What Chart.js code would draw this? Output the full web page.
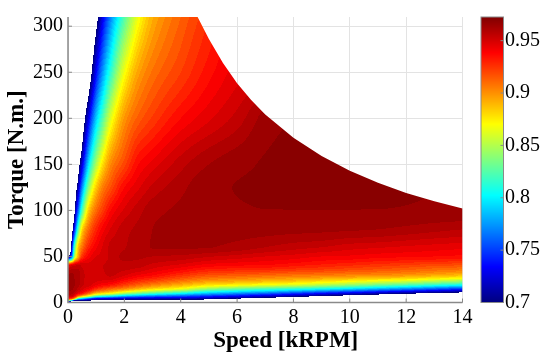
<!DOCTYPE html>
<html><head><meta charset="utf-8">
<script src="https://cdn.jsdelivr.net/npm/chart.js@4.4.1/dist/chart.umd.min.js"></script>
<style>html,body{margin:0;padding:0;background:#fff;}</style>
</head><body>
<canvas id="c" width="550" height="358"></canvas>
<script>
// Speed grid (kRPM), columns
const SPEED = [0, 0.125, 0.25, 0.375, 0.5, 0.75, 1, 1.25, 1.5, 2, 2.5, 3, 4, 5, 6, 7, 8, 9, 10, 11, 12, 13, 14];
// Torque grid (N.m.), rows
const TORQUE = [0, 2, 4, 7, 10, 15, 20, 30, 40, 50, 60, 80, 100, 125, 150, 200, 250, 310];
const EFF_T0   = [0.60,0.55,0.50,0.50,0.50,0.50,0.50,0.50,0.50,0.50,0.50,0.50,0.50,0.50,0.50,0.50,0.50,0.50,0.50,0.50,0.50,0.50,0.50];
const EFF_T2   = [0.85,0.80,0.69,0.695,0.70,0.695,0.69,0.688,0.686,0.686,0.686,0.685,0.685,0.68,0.671,0.66,0.65,0.645,0.638,0.63,0.622,0.615,0.61];
const EFF_T4   = [0.93,0.92,0.88,0.80,0.785,0.751,0.730,0.7265,0.7235,0.7185,0.7166,0.7148,0.7136,0.7068,0.697,0.686,0.675,0.663,0.652,0.643,0.633,0.624,0.615];
const EFF_T7   = [0.955,0.955,0.94,0.91,0.893,0.863,0.829,0.817,0.808,0.788,0.778,0.770,0.760,0.748,0.738,0.725,0.713,0.701,0.690,0.680,0.670,0.661,0.652];
const EFF_T10  = [0.963,0.962,0.955,0.945,0.937,0.914,0.890,0.881,0.873,0.851,0.836,0.825,0.808,0.788,0.776,0.765,0.752,0.740,0.728,0.717,0.706,0.697,0.688];
const EFF_T15  = [0.966,0.966,0.963,0.958,0.952,0.944,0.931,0.923,0.916,0.906,0.894,0.884,0.870,0.847,0.836,0.826,0.818,0.809,0.799,0.787,0.775,0.763,0.752];
const EFF_T20  = [0.967,0.967,0.965,0.962,0.956,0.953,0.947,0.943,0.940,0.929,0.919,0.911,0.898,0.886,0.881,0.875,0.870,0.861,0.852,0.843,0.835,0.826,0.818];
const EFF_T30  = [0.965,0.966,0.964,0.962,0.957,0.953,0.955,0.9545,0.956,0.951,0.945,0.941,0.930,0.921,0.918,0.915,0.912,0.910,0.907,0.905,0.902,0.897,0.892];
const EFF_T40  = [0.940,0.952,0.955,0.957,0.954,0.952,0.954,0.955,0.957,0.958,0.957,0.953,0.948,0.942,0.940,0.939,0.936,0.933,0.930,0.927,0.924,0.921,0.919];
const EFF_T50  = [0.690,0.760,0.860,0.900,0.928,0.943,0.950,0.952,0.956,0.961,0.961,0.960,0.9587,0.9556,0.953,0.950,0.948,0.945,0.944,0.942,0.941,0.940,0.9385];
const EFF_T60  = [0.55,0.72,0.836,0.891,0.911,0.934,0.944,0.951,0.956,0.9596,0.963,0.9652,0.9656,0.9652,0.963,0.960,0.957,0.955,0.952,0.9506,0.949,0.9476,0.9463];
const EFF_T80  = [0.50,0.665,0.754,0.831,0.881,0.914,0.932,0.943,0.950,0.9578,0.9614,0.965,0.9668,0.9672,0.9672,0.9671,0.9668,0.9664,0.9659,0.9652,0.9637,0.9619,0.9603];
const EFF_T100 = [0.50,0.60,0.706,0.770,0.823,0.889,0.913,0.927,0.9396,0.951,0.958,0.963,0.966,0.9678,0.9693,0.9699,0.9699,0.9699,0.9699,0.9699,0.9697,0.9692,0.9688];
const EFF_T125 = [0.50,0.55,0.670,0.723,0.772,0.845,0.887,0.9086,0.920,0.940,0.949,0.9563,0.9636,0.9685,0.9702,0.971,0.972,0.972,0.9718,0.971,0.9705,0.970,0.969];
const EFF_T150 = [0.50,0.55,0.60,0.685,0.727,0.802,0.851,0.883,0.904,0.923,0.940,0.947,0.958,0.965,0.9685,0.9705,0.9715,0.9715,0.971,0.970,0.969,0.968,0.967];
const EFF_T200 = [0.45,0.50,0.55,0.60,0.666,0.736,0.791,0.829,0.863,0.901,0.917,0.926,0.940,0.949,0.957,0.967,0.970,0.9705,0.9705,0.970,0.969,0.968,0.967];
const EFF_T250 = [0.45,0.47,0.49,0.52,0.617,0.678,0.737,0.780,0.815,0.870,0.898,0.911,0.925,0.938,0.948,0.955,0.960,0.963,0.965,0.965,0.965,0.965,0.965];
const EFF_T310 = [0.45,0.47,0.50,0.53,0.56,0.64,0.687,0.734,0.770,0.827,0.870,0.894,0.915,0.930,0.944,0.956,0.960,0.962,0.963,0.964,0.964,0.964,0.964];
const EFFICIENCY = [EFF_T0, EFF_T2, EFF_T4, EFF_T7, EFF_T10, EFF_T15, EFF_T20, EFF_T30, EFF_T40, EFF_T50,
                    EFF_T60, EFF_T80, EFF_T100, EFF_T125, EFF_T150, EFF_T200, EFF_T250, EFF_T310];
// Maximum torque envelope
const ENVELOPE_SPEED  = [0, 4.6, 5, 5.5, 6, 6.5, 7, 8, 9, 10, 11, 12, 13, 14];
const ENVELOPE_TORQUE = [310, 310, 286, 260, 238, 220, 204, 179, 159, 143, 130, 119, 110, 102];
// Axes
const SPEED_TICKS = [0, 2, 4, 6, 8, 10, 12, 14];
const TORQUE_TICKS = [0, 50, 100, 150, 200, 250, 300];
const COLORBAR_TICKS = [0.7, 0.75, 0.8, 0.85, 0.9, 0.95];
const COLORBAR_LABELS = ['0.7', '0.75', '0.8', '0.85', '0.9', '0.95'];
const X_TITLE = 'Speed [kRPM]';
const Y_TITLE = 'Torque [N.m.]';
const EFF_MIN = 0.7, EFF_MAX = 0.9726, LEVEL_STEP = 0.005;

function jet(t) {
  t = Math.max(0, Math.min(1, t));
  const c = v => Math.round(Math.max(0, Math.min(1, v)) * 255);
  return [c(1.5 - Math.abs(4 * t - 3)), c(1.5 - Math.abs(4 * t - 2)), c(1.5 - Math.abs(4 * t - 1))];
}
function locate(arr, v) {
  let i = 0;
  while (i < arr.length - 2 && v > arr[i + 1]) i++;
  return i;
}
// shape-preserving cubic (PCHIP) helpers used only for drawing between grid nodes
function pchipSlopes(x, y) {
  const n = x.length, h = [], d = [], m = new Array(n);
  for (let i = 0; i < n - 1; i++) { h.push(x[i + 1] - x[i]); d.push((y[i + 1] - y[i]) / h[i]); }
  m[0] = d[0]; m[n - 1] = d[n - 2];
  for (let i = 1; i < n - 1; i++) {
    if (d[i - 1] * d[i] <= 0) m[i] = 0;
    else {
      const w1 = 2 * h[i] + h[i - 1], w2 = h[i] + 2 * h[i - 1];
      m[i] = (w1 + w2) / (w1 / d[i - 1] + w2 / d[i]);
    }
  }
  return m;
}
function pchipEval(x, y, m, i, t) {
  const h = x[i + 1] - x[i];
  let f = (t - x[i]) / h; f = Math.max(0, Math.min(1, f));
  const f2 = f * f, f3 = f2 * f;
  return (2 * f3 - 3 * f2 + 1) * y[i] + (f3 - 2 * f2 + f) * h * m[i] + (-2 * f3 + 3 * f2) * y[i + 1] + (f3 - f2) * h * m[i + 1];
}
const AXIS_COLOR = '#8a8a8a';
const FONT = 'Liberation Serif';

const mapPlugin = {
  id: 'effmap',
  beforeDatasetsDraw(chart) {
    const { ctx, chartArea: a, scales } = chart;
    const xs = scales.x, ys = scales.y, cb = scales.cb;
    const x0 = Math.floor(a.left), y0 = Math.floor(a.top);
    const w = Math.ceil(a.right) - x0, h = Math.ceil(a.bottom) - y0;
    const off = document.createElement('canvas');
    off.width = w; off.height = h;
    const octx = off.getContext('2d');
    const img = octx.createImageData(w, h);
    const d = img.data;
    const rowSlopes = EFFICIENCY.map(r => pchipSlopes(SPEED, r));
    const colVals = [], colSlopes = [];
    for (let px = 0; px < w; px++) {
      const s = xs.getValueForPixel(x0 + px + 0.5);
      const i = locate(SPEED, s);
      const vals = EFFICIENCY.map((r, j) => pchipEval(SPEED, r, rowSlopes[j], i, s));
      colVals.push(vals);
      colSlopes.push(pchipSlopes(TORQUE, vals));
    }
    for (let py = 0; py < h; py++) {
      const T = ys.getValueForPixel(y0 + py + 0.5);
      const j = locate(TORQUE, T);
      for (let px = 0; px < w; px++) {
        const v = pchipEval(TORQUE, colVals[px], colSlopes[px], j, T);
        if (v < EFF_MIN) continue;
        const q = EFF_MIN + Math.floor((v - EFF_MIN) / LEVEL_STEP + 1e-9) * LEVEL_STEP;
        const [R, G, B] = jet((q - EFF_MIN) / (EFF_MAX - EFF_MIN));
        const k = (py * w + px) * 4;
        d[k] = R; d[k + 1] = G; d[k + 2] = B; d[k + 3] = 255;
      }
    }
    octx.putImageData(img, 0, 0);
    ctx.save();
    ctx.beginPath();
    ctx.rect(a.left, a.top, a.right - a.left, a.bottom - a.top);
    ctx.clip();
    ctx.beginPath();
    ctx.moveTo(xs.getPixelForValue(0), ys.getPixelForValue(0));
    for (let n = 0; n < ENVELOPE_SPEED.length; n++) {
      ctx.lineTo(xs.getPixelForValue(ENVELOPE_SPEED[n]), ys.getPixelForValue(ENVELOPE_TORQUE[n]));
    }
    ctx.lineTo(xs.getPixelForValue(ENVELOPE_SPEED[ENVELOPE_SPEED.length - 1]), ys.getPixelForValue(0));
    ctx.closePath();
    ctx.clip();
    ctx.drawImage(off, x0, y0);
    ctx.restore();

    // colour bar
    const bx = cb.left + 18.5, bw = 22.5;
    for (let py = Math.floor(cb.top); py < Math.ceil(cb.bottom); py++) {
      const v = cb.getValueForPixel(py + 0.5);
      const [R, G, B] = jet((v - EFF_MIN) / (EFF_MAX - EFF_MIN));
      ctx.fillStyle = `rgb(${R},${G},${B})`;
      ctx.fillRect(bx, py, bw, 1);
    }
    ctx.save();
    ctx.strokeStyle = AXIS_COLOR; ctx.lineWidth = 1;
    ctx.strokeRect(bx, cb.top, bw, cb.bottom - cb.top);
    ctx.beginPath();
    COLORBAR_TICKS.forEach(v => {
      const y = cb.getPixelForValue(v);
      ctx.moveTo(bx + bw - 3, y); ctx.lineTo(bx + bw, y);
    });
    ctx.stroke();
    ctx.restore();
  },
  afterDatasetsDraw(chart) {
    const { ctx, chartArea: a, scales } = chart;
    const xs = scales.x, ys = scales.y, cb = scales.cb;
    ctx.save();
    ctx.strokeStyle = AXIS_COLOR;
    ctx.lineWidth = 1.5;
    ctx.beginPath();
    ctx.moveTo(a.left, a.top); ctx.lineTo(a.left, a.bottom); ctx.lineTo(a.right, a.bottom);
    ctx.stroke();
    ctx.lineWidth = 1;
    ctx.beginPath();
    SPEED_TICKS.forEach(v => { const x = xs.getPixelForValue(v); ctx.moveTo(x, a.bottom); ctx.lineTo(x, a.bottom - 4); });
    TORQUE_TICKS.forEach(v => { const y = ys.getPixelForValue(v); ctx.moveTo(a.left, y); ctx.lineTo(a.left + 4, y); });
    ctx.stroke();
    // x-axis label, centred under the axes plus colour bar as in the original figure
    ctx.fillStyle = '#000';
    ctx.font = `bold 23px "${FONT}"`;
    ctx.textAlign = 'center';
    ctx.textBaseline = 'middle';
    ctx.fillText(X_TITLE, (a.left + cb.left + 18.5 + 22.5) / 2, 341.5);
    ctx.restore();
  }
};

new Chart(document.getElementById('c'), {
  type: 'scatter',
  data: { datasets: [] },
  options: {
    responsive: false,
    animation: false,
    devicePixelRatio: 1,
    layout: { padding: { top: 8, left: 0, right: 0, bottom: 0 } },
    plugins: { legend: { display: false }, tooltip: { enabled: false } },
    scales: {
      x: {
        type: 'linear', min: 0, max: 14,
        afterBuildTicks: s => { s.ticks = SPEED_TICKS.map(v => ({ value: v })); },
        afterFit: s => { s.height = 55.5; },
        grid: { color: '#e3e3e3', lineWidth: 1, drawTicks: false },
        border: { display: false },
        ticks: { color: '#000', padding: 3, maxRotation: 0, font: { family: FONT, size: 20 }, callback: v => String(v) },
        title: { display: false }
      },
      y: {
        type: 'linear', min: 0, max: 310,
        afterBuildTicks: s => { s.ticks = TORQUE_TICKS.map(v => ({ value: v })); },
        afterFit: s => { s.width = 68; },
        grid: { color: '#e3e3e3', lineWidth: 1, drawTicks: false },
        border: { display: false },
        ticks: { color: '#000', padding: 5, font: { family: FONT, size: 20 }, callback: v => String(v) },
        title: { display: true, text: Y_TITLE, color: '#000', padding: { top: 3, bottom: 0 }, font: { family: FONT, size: 23, weight: 'bold' } }
      },
      cb: {
        type: 'linear', position: 'right', min: EFF_MIN, max: EFF_MAX,
        afterBuildTicks: s => { s.ticks = COLORBAR_TICKS.map(v => ({ value: v })); },
        afterFit: s => { s.width = 87.5; },
        grid: { drawOnChartArea: false, drawTicks: true, tickLength: 40, color: 'rgba(0,0,0,0)' },
        border: { display: false },
        ticks: { color: '#000', padding: 2.5, font: { family: FONT, size: 20 },
          callback: (v) => { const i = COLORBAR_TICKS.findIndex(t => Math.abs(t - v) < 1e-6); return i >= 0 ? COLORBAR_LABELS[i] : ''; } }
      }
    }
  },
  plugins: [mapPlugin]
});
</script>
</body></html>
